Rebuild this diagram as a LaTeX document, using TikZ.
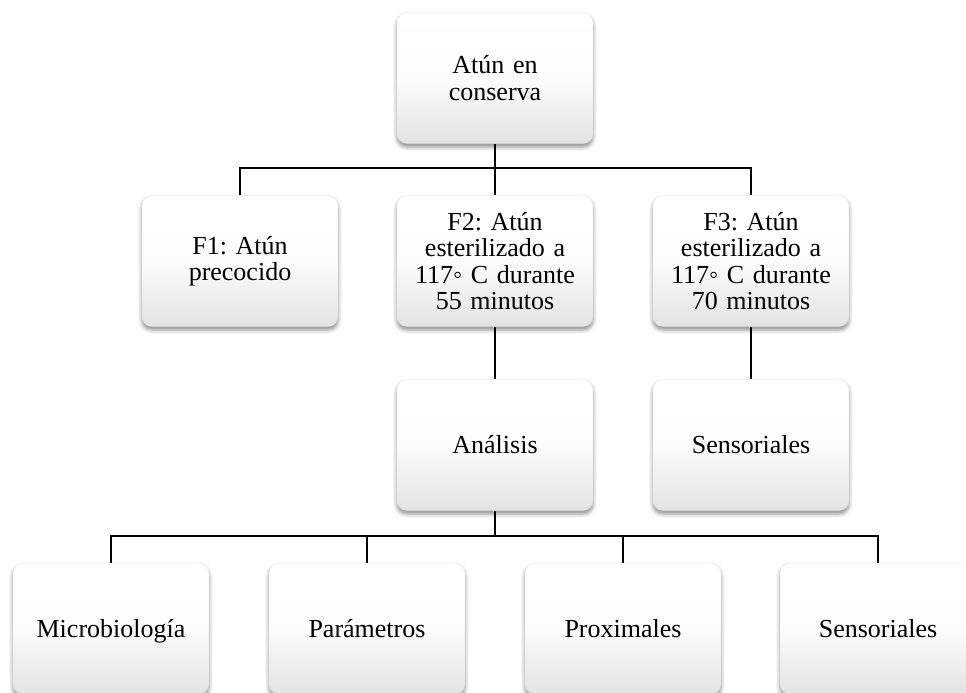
\documentclass[tikz,border=0pt]{standalone}
\usepackage{fontspec}
\setmainfont{Liberation Serif}
\usetikzlibrary{shadows.blur}
\tikzset{
  box/.style={rectangle, rounded corners=10pt, minimum width=196pt, minimum height=131pt,
    text width=190pt, align=center, inner sep=0pt,
    draw=black!12, line width=0.4pt,
    top color=white, bottom color=black!11, middle color=black!1,
    blur shadow={shadow xshift=0pt, shadow yshift=-3.5pt, shadow blur radius=4pt, shadow opacity=45},
    font=\fontsize{26}{26.5}\selectfont\frenchspacing},
  oneline/.style={text height=20pt, text depth=3pt},
  conn/.style={line width=2pt, black}
}
\begin{document}
\begin{tikzpicture}[x=1pt,y=-1pt]
\useasboundingbox (0,0) rectangle (966,693);
\node[box] (top) at (495,78) {Atún en\\conserva};
\node[box] (f1) at (240,261) {F1: Atún\\precocido};
\node[box] (f2) at (495,261) {F2: Atún\\esterilizado a\\117◦ C durante\\55 minutos};
\node[box] (f3) at (751,261) {F3: Atún\\esterilizado a\\117◦ C durante\\70 minutos};
\node[box, oneline] (an) at (495,445) {Análisis};
\node[box, oneline] (se1) at (751,445) {Sensoriales};
\node[box, oneline] (b1) at (111,628.5) {Microbiología};
\node[box, oneline] (b2) at (367,628.5) {Parámetros};
\node[box, oneline] (b3) at (623,628.5) {Proximales};
\node[box, oneline] (b4) at (878,628.5) {Sensoriales};
\draw[conn] (top.south) -- (f2.north);
\draw[conn] (f1.north) -- ++(0,-27) -| (f3.north);
\draw[conn] (f2.south) -- (an.north);
\draw[conn] (f3.south) -- (se1.north);
\coordinate (bus) at (495,536);
\draw[conn] (an.south) -- (bus);
\draw[conn] (b1.north) -- ++(0,-27) -| (b4.north);
\draw[conn] (b2.north) -- (b2.north |- bus);
\draw[conn] (b3.north) -- (b3.north |- bus);
\end{tikzpicture}
\end{document}
